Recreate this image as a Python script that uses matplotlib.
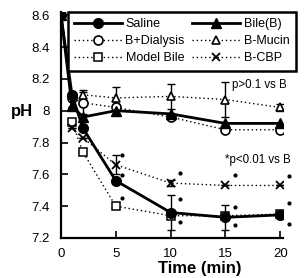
import matplotlib
matplotlib.use('Agg')
from matplotlib import pyplot as plt

plt.rcParams['font.family'] = ['Liberation Sans', 'DejaVu Sans']

# time points (min)
t_solid = [0, 1, 2, 5, 10, 15, 20]
t_dot = [1, 2, 5, 10, 15, 20]

# pH readings
ph_saline = [8.60, 8.10, 7.89, 7.56, 7.36, 7.33, 7.345]
err_saline = [0, 0, 0, 0, 0.11, 0.08, 0.02]
ph_bile = [8.60, 8.03, 7.96, 8.00, 7.98, 7.92, 7.92]
ph_dialysis = [8.08, 8.05, 8.02, 7.96, 7.88, 7.88]
err_dialysis = [0, 0.07, 0, 0, 0, 0]
ph_mucin = [8.02, 8.10, 8.08, 8.09, 8.07, 8.02]
err_mucin = [0, 0.03, 0.07, 0.08, 0.11, 0.02]
ph_model = [7.93, 7.74, 7.40, 7.34, 7.34, 7.35]
ph_cbp = [7.89, 7.83, 7.66, 7.545, 7.53, 7.53]
err_cbp = [0, 0, 0.06, 0.02, 0, 0]

# significance marks (p<0.01 vs B)
sig_t = [5.6, 5.6, 5.6, 10.9, 10.9, 10.9, 15.9, 15.9, 15.9, 20.8, 20.8, 20.8]
sig_ph = [7.72, 7.595, 7.45, 7.61, 7.445, 7.30, 7.595, 7.395, 7.28, 7.59, 7.42, 7.29]

yticks = [7.2, 7.4, 7.6, 7.8, 8.0, 8.2, 8.4, 8.6]
ytick_labels = ['7.2', '7.4', '7.6', '7.8', '8', '8.2', '8.4', '8.6']
xticks = [0, 5, 10, 15, 20]

fig = plt.figure(figsize=(3.04, 2.78), dpi=100)
ax = fig.add_axes([61/304, 40/278, 222/304, 226/278])

dot = (0, (1, 2))
ebkw = dict(fmt='none', ecolor='black', elinewidth=1, capsize=3, capthick=1)

# error bars
ax.errorbar(t_dot, ph_dialysis, yerr=err_dialysis, zorder=2, **ebkw)
ax.errorbar(t_dot, ph_mucin, yerr=err_mucin, zorder=2, **ebkw)
ax.errorbar(t_dot, ph_cbp, yerr=err_cbp, zorder=2, **ebkw)
ax.errorbar(t_solid, ph_saline, yerr=err_saline, zorder=2, **ebkw)

# lines
l_dia, = ax.plot(t_dot, ph_dialysis, color='black', ls=dot, lw=1,
                 marker='o', ms=6.5, mfc='white', mec='black', mew=1.2, zorder=3)
l_muc, = ax.plot(t_dot, ph_mucin, color='black', ls=dot, lw=1,
                 marker='^', ms=6, mfc='white', mec='black', mew=1.2, zorder=3)
l_mod, = ax.plot(t_dot, ph_model, color='black', ls=dot, lw=1,
                 marker='s', ms=6, mfc='white', mec='black', mew=1.1, zorder=3)
l_cbp, = ax.plot(t_dot, ph_cbp, color='black', ls=dot, lw=1,
                 marker='x', ms=6, mec='black', mew=1.3, zorder=3)
l_sal, = ax.plot(t_solid, ph_saline, color='black', ls='-', lw=2,
                 marker='o', ms=7, mfc='black', mec='black', zorder=4)
l_bil, = ax.plot(t_solid, ph_bile, color='black', ls='-', lw=2,
                 marker='^', ms=6.5, mfc='black', mec='black', zorder=4)

ax.plot(sig_t, sig_ph, ls='none', marker='o', ms=2, color='black', clip_on=False)

ax.set_xlim(0, 20.25)
ax.set_ylim(7.2, 8.62)
ax.set_yticks(yticks)
ax.set_yticklabels(ytick_labels)
ax.set_xticks(xticks)
ax.tick_params(direction='in', length=5, width=1.2, labelsize=9.5)
ax.tick_params(axis='y', pad=8)
ax.tick_params(axis='x', pad=7)
ax.spines['top'].set_visible(False)
ax.spines['right'].set_visible(False)
ax.spines['left'].set_linewidth(1.6)
ax.spines['bottom'].set_linewidth(1.6)

ax.text(15.6, 8.16, 'p>0.1 vs B', fontsize=8.3, va='center')
ax.text(15.0, 7.69, '*p<0.01 vs B', fontsize=8.3, va='center')

fig.text(22/304, 1 - 112/278, 'pH', fontsize=12, fontweight='bold', ha='center', va='center')
fig.text(200/304, 1 - 268/278, 'Time (min)', fontsize=12, fontweight='bold', ha='center', va='center')

# legend filled column by column: Saline / B+Dialysis / Model Bile, then Bile(B) / B-Mucin / B-CBP
handles = [l_sal, l_dia, l_mod, l_bil, l_muc, l_cbp]
labels = ['Saline', 'B+Dialysis', 'Model Bile', 'Bile(B)', 'B-Mucin', 'B-CBP']
leg = fig.legend(handles, labels, ncol=2, loc='upper left',
                 bbox_to_anchor=(68/304, 1 - 12/278), fontsize=9, handlelength=3.8,
                 handletextpad=0.3, columnspacing=0.6, labelspacing=0.4, borderpad=0.5,
                 borderaxespad=0, fancybox=False, framealpha=1, edgecolor='black')
leg.get_frame().set_linewidth(1.8)

plt.savefig('out.png', dpi=100)
